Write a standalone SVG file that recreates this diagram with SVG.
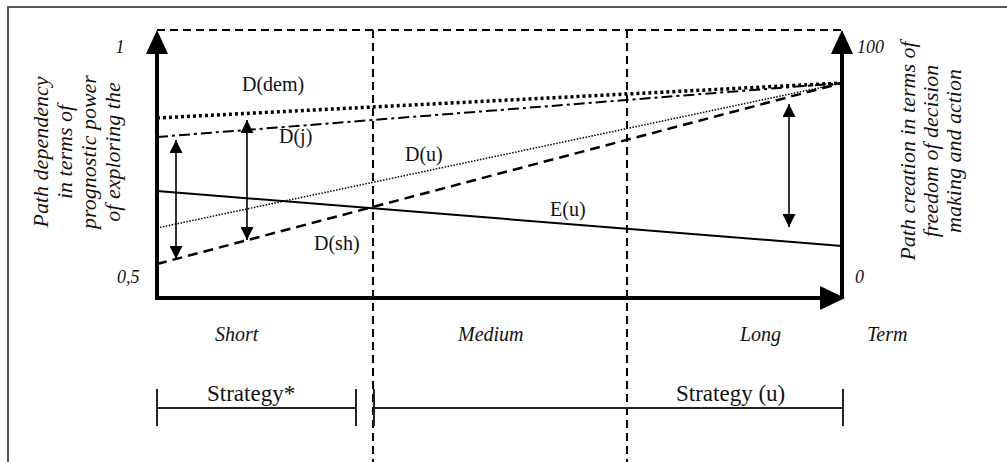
<svg xmlns="http://www.w3.org/2000/svg" width="1007" height="462" viewBox="0 0 1007 462">
<style>
.frame{stroke:#5a5a5a;stroke-width:2;fill:none}
.axis{stroke:#000;stroke-width:4;fill:none}
.grid{stroke:#000;stroke-width:2;stroke-dasharray:8 5;fill:none}
.dem{stroke:#000;stroke-width:3.5;stroke-dasharray:3 3;fill:none}
.dj{stroke:#000;stroke-width:2;stroke-dasharray:11 4 3 4;fill:none}
.du{stroke:#000;stroke-width:1.5;stroke-dasharray:1.5 1.5;fill:none}
.dsh{stroke:#000;stroke-width:2.5;stroke-dasharray:10 6;fill:none}
.eu{stroke:#000;stroke-width:2;fill:none}
.dbl{stroke:#000;stroke-width:1.6;fill:none;marker-start:url(#ah);marker-end:url(#ah)}
.br{stroke:#222;stroke-width:2;fill:none}
.lbl{font-family:"Liberation Serif","Times New Roman",serif;font-size:20px;fill:#111}
.it{font-family:"Liberation Serif","Times New Roman",serif;font-style:italic;font-size:20px;fill:#111}
.num{font-family:"Liberation Serif","Times New Roman",serif;font-style:italic;font-size:18px;fill:#111}
.ax{font-family:"Liberation Serif","Times New Roman",serif;font-style:italic;font-size:22px;fill:#111;text-anchor:middle}
.st{font-family:"Liberation Serif","Times New Roman",serif;font-size:23px;fill:#111}
</style>
<defs>
<marker id="ah" viewBox="0 0 13 13" refX="13" refY="6.5" markerWidth="13" markerHeight="13" markerUnits="userSpaceOnUse" orient="auto-start-reverse">
<path d="M0,0 L13,6.5 L0,13 z" fill="#000"/>
</marker>
</defs>
<rect width="1007" height="462" fill="#fff"/>
<g id="frame"><path class="frame" d="M8,462 L8,7 L1007,7"/></g>
<g id="grid">
<line class="grid" x1="157" y1="30" x2="842" y2="30"/>
<line class="grid" x1="373" y1="30" x2="373" y2="462"/>
<line class="grid" x1="627" y1="30" x2="627" y2="462"/>
</g>
<g id="axes">
<path class="axis" d="M157,50 L157,298 L822,298"/>
<line class="axis" x1="842" y1="298" x2="842" y2="50"/>
<polygon points="157,30 146,54 168,54" fill="#000"/>
<polygon points="842,30 831,54 853,54" fill="#000"/>
<polygon points="845,298 820,286 820,310" fill="#000"/>
</g>
<g id="connectors">
<line id="D-dem" class="dem" x1="157" y1="118" x2="842" y2="83"/>
<line id="D-j" class="dj" x1="157" y1="137" x2="842" y2="83"/>
<line id="D-u" class="du" x1="157" y1="228" x2="842" y2="83"/>
<line id="D-sh" class="dsh" x1="157" y1="264" x2="842" y2="83"/>
<line id="E-u" class="eu" x1="157" y1="191" x2="842" y2="246"/>
<line class="dbl" x1="176" y1="140" x2="176" y2="259"/>
<line class="dbl" x1="247" y1="120" x2="247" y2="240"/>
<line class="dbl" x1="789" y1="104" x2="789" y2="227"/>
</g>
<g id="series-labels">
<text class="lbl" x="242" y="91">D(dem)</text>
<text class="lbl" x="279" y="143">D(j)</text>
<text class="lbl" x="405" y="161">D(u)</text>
<text class="lbl" x="314" y="250">D(sh)</text>
<text class="lbl" x="550" y="216">E(u)</text>
</g>
<g id="scale-labels">
<text class="num" x="120" y="53" text-anchor="middle">1</text>
<text class="num" x="117" y="283">0,5</text>
<text class="num" x="857" y="53">100</text>
<text class="num" x="855" y="283">0</text>
</g>
<g id="term-labels">
<text class="it" x="215" y="341">Short</text>
<text class="it" x="458" y="341">Medium</text>
<text class="it" x="740" y="341">Long</text>
<text class="it" x="867" y="341">Term</text>
</g>
<g id="left-axis-label">
<text class="ax" transform="translate(48,152) rotate(-90)">Path dependency</text>
<text class="ax" transform="translate(72,152) rotate(-90)">in terms of</text>
<text class="ax" transform="translate(96,152) rotate(-90)">prognostic power</text>
<text class="ax" transform="translate(120,152) rotate(-90)">of exploring the</text>
</g>
<g id="right-axis-label">
<text class="ax" transform="translate(915,151) rotate(-90)">Path creation in terms of</text>
<text class="ax" transform="translate(938,151) rotate(-90)">freedom of decision</text>
<text class="ax" transform="translate(961,151) rotate(-90)">making and action</text>
</g>
<g id="strategy-star">
<path class="br" d="M157,389 L157,426 M157,408 L356,408 M356,389 L356,426"/>
<text class="st" x="207" y="401">Strategy*</text>
</g>
<g id="strategy-u">
<path class="br" d="M374,389 L374,426 M374,408 L843,408 M843,389 L843,426"/>
<text class="st" x="676" y="401">Strategy (u)</text>
</g>
</svg>
